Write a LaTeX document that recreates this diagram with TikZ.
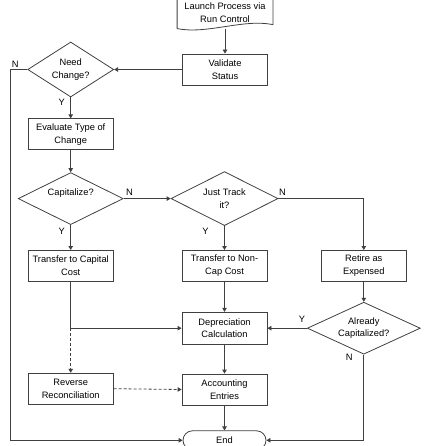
\documentclass[tikz,border=0pt]{standalone}
\usepackage{fontspec}
\setmainfont{Liberation Sans}
\usetikzlibrary{arrows.meta, positioning, shapes.geometric, shapes.misc}

\begin{document}
\begin{tikzpicture}[
  font=\fontsize{9.3}{12.7}\selectfont,
  node distance=25pt,
  box/.style={draw=black!75, align=center, minimum width=85pt, minimum height=31pt, inner sep=1pt, line width=0.8pt},
  decision/.style={draw=black!75, diamond, align=center, inner sep=0pt, aspect=2, line width=0.8pt},
  terminal/.style={draw=black!75, rounded rectangle, minimum width=85pt, minimum height=19pt, inner sep=1pt, line width=0.8pt},
  lbl/.style={inner sep=0pt},
  arr/.style={-{Triangle[length=4pt, width=4.5pt]}, draw=black!75, line width=0.8pt},
  dotarr/.style={arr, dash pattern=on 3pt off 2pt}
]
\useasboundingbox (0pt,0pt) rectangle (424pt,-446pt);

\node[box] (validate) at (225pt,-69.5pt) {Validate\\Status};
\node[box, minimum width=95pt, draw=none, above=25pt of validate] (launch) {Launch Process via\\Run Control};
\draw[draw=black!75, line width=0.8pt] (launch.south west) -- (launch.north west) -- (launch.north east) -- ([yshift=4pt]launch.south east)
  .. controls ([xshift=-30pt, yshift=10pt]launch.south east) and ([xshift=30pt, yshift=-6pt]launch.south west) .. (launch.south west);

\node[decision, aspect=1.6, minimum width=86pt, minimum height=55pt, left=68pt of validate] (need) {Need\\Change?};
\node[box, below=21pt of need] (evaluate) {Evaluate Type of\\Change};
\node[decision, minimum width=105pt, minimum height=52pt, below=22pt of evaluate] (capit) {\raisebox{3pt}[0pt][0pt]{Capitalize?}};
\node[decision, minimum width=107pt, minimum height=54pt, right=47pt of capit] (track) {Just Track\\it?};
\node[box, below=of capit] (transcap) {Transfer to Capital\\Cost};
\node[box, below=24pt of track] (transnon) {Transfer to Non-\\Cap Cost};
\node[box, right=53.5pt of transnon] (retire) {Retire as\\Expensed};
\node[box, minimum height=32pt, below=30pt of transnon] (deprec) {Depreciation\\Calculation};
\node[decision, minimum width=113pt, minimum height=52pt, below=20pt of retire] (already) {Already\\Capitalized?};
\node[box, below=91pt of transcap] (reverse) {Reverse\\Reconciliation};
\node[box, below=29pt of deprec] (account) {Accounting\\Entries};
\node[terminal, below=of account] (finish) {End};

% branch labels
\node[lbl] (nNeed) at ([xshift=-12pt, yshift=5.5pt]need.west) {N};
\node[lbl] (yNeed) at ([xshift=-9pt, yshift=-5pt]need.south) {Y};
\node[lbl] (nCap) at ([xshift=6pt, yshift=6pt]capit.east) {N};
\node[lbl] (yCap) at ([xshift=-9pt, yshift=-6pt]capit.south) {Y};
\node[lbl] (nTrack) at ([xshift=4pt, yshift=6pt]track.east) {N};
\node[lbl] (yTrack) at ([xshift=-19pt, yshift=-5pt]track.south) {Y};
\node[lbl] (yAlready) at ([xshift=-5pt, yshift=9pt]already.west) {Y};
\node[lbl] (nAlready) at ([xshift=-14.5pt, yshift=-3pt]already.south) {N};

\draw[arr] (launch.south) -- (validate.north);
\draw[arr] (validate.west) -- (need.east);
\draw[arr] (need.south) -- (evaluate.north);
\draw[arr] (need.west) -- ([xshift=-17pt]need.west) |- (finish.west);
\draw[arr] (evaluate.south) -- (capit.north);
\draw[arr] (capit.east) -- (track.west);
\draw[arr] (capit.south) -- (transcap.north);
\draw[arr] (track.south) -- (transnon.north);
\draw[arr] (track.east) -| (retire.north);
\draw[arr] (transnon.south) -- (deprec.north);
\coordinate (split) at (transcap.south |- deprec.west);
\draw[arr] (transcap.south) -- (split) -- (deprec.west);
\draw[dotarr] (split) -- (reverse.north);
\draw[arr] (retire.south) -- (already.north);
\draw[arr] (already.west) -- (deprec.east);
\draw[arr] (already.south) |- (finish.east);
\draw[arr] (deprec.south) -- (account.north);
\draw[dotarr] (reverse.east) -- (account.west);
\draw[arr] (account.south) -- (finish.north);
\end{tikzpicture}
\end{document}
